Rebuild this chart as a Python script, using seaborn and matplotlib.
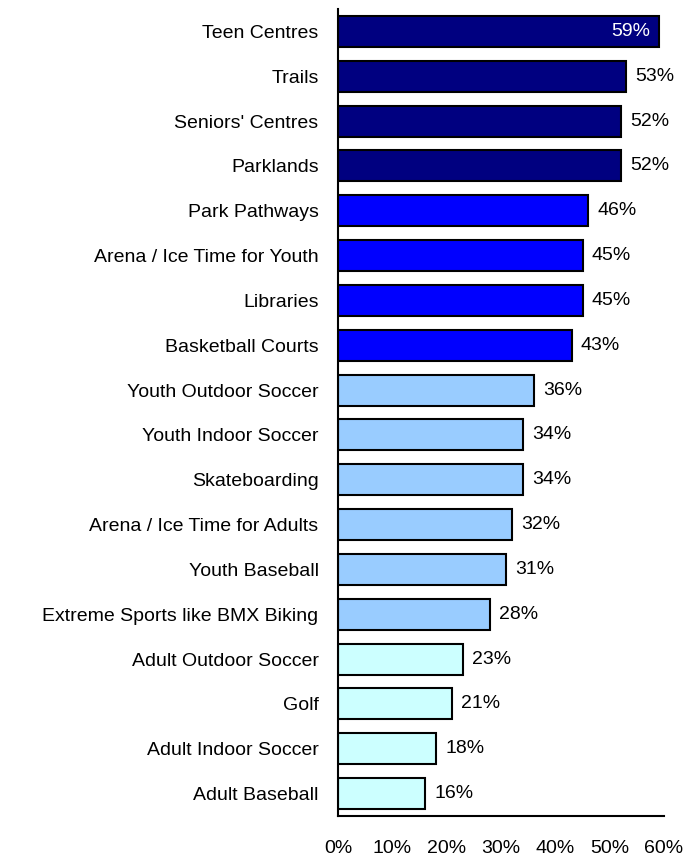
import matplotlib
matplotlib.use("Agg")
import matplotlib.pyplot as plt
import seaborn as sns
import pandas as pd
from matplotlib.ticker import FixedLocator, PercentFormatter

categories = ["Teen Centres", "Trails", "Seniors' Centres", "Parklands", "Park Pathways",
              "Arena / Ice Time for Youth", "Libraries", "Basketball Courts",
              "Youth Outdoor Soccer", "Youth Indoor Soccer", "Skateboarding",
              "Arena / Ice Time for Adults", "Youth Baseball", "Extreme Sports like BMX Biking",
              "Adult Outdoor Soccer", "Golf", "Adult Indoor Soccer", "Adult Baseball"]
values = [59, 53, 52, 52, 46, 45, 45, 43, 36, 34, 34, 32, 31, 28, 23, 21, 18, 16]
groups = ["g1"] * 4 + ["g2"] * 4 + ["g3"] * 6 + ["g4"] * 4
group_colors = {"g1": "#000080", "g2": "#0000FF", "g3": "#99CCFF", "g4": "#CCFFFF"}

sns.set_style("white")
plt.rcParams['font.family'] = ['Liberation Sans', 'DejaVu Sans']

df = pd.DataFrame({"cat": categories, "val": values, "grp": groups})

fig = plt.figure(figsize=(6.88, 8.56), dpi=100)
ax = fig.add_axes([338/688, 40/856, (664-338)/688, (816-9)/856])
sns.barplot(data=df, x="val", y="cat", hue="grp", palette=group_colors, dodge=False,
            order=categories, width=0.69, edgecolor="black", linewidth=1.5,
            saturation=1, legend=False, ax=ax)

ax.set_xlim(0, 60)
ax.set_ylim(len(categories) - 0.5, -0.5)
ax.set_xlabel("")
ax.set_ylabel("")
ax.xaxis.set_major_locator(FixedLocator([0, 10, 20, 30, 40, 50, 60]))
ax.xaxis.set_major_formatter(PercentFormatter(decimals=0))
ax.set_yticks(range(len(categories)))
ax.set_yticklabels(categories, fontsize=14, color="black")
ax.tick_params(axis="y", length=0, pad=14, labelcolor="black")
ax.set_yticks([i + 0.5 for i in range(-1, len(categories))], minor=True)
ax.tick_params(axis="y", which="minor", length=6, width=1.5, direction="out", color="black")
ax.tick_params(axis="x", length=6, width=1.5, direction="out", color="black",
               labelsize=14, labelcolor="black", pad=11)

for s in ["top", "right"]:
    ax.spines[s].set_visible(False)
for s in ["left", "bottom"]:
    ax.spines[s].set_color("black")
    ax.spines[s].set_linewidth(1.5)

for i, v in enumerate(values):
    if v >= 57:
        ax.text(v - 1.5, i, f"{v}%", ha="right", va="center", color="white", fontsize=14)
    else:
        ax.text(v + 1.7, i, f"{v}%", ha="left", va="center", color="black", fontsize=14)

fig.savefig("out.png", dpi=100)
